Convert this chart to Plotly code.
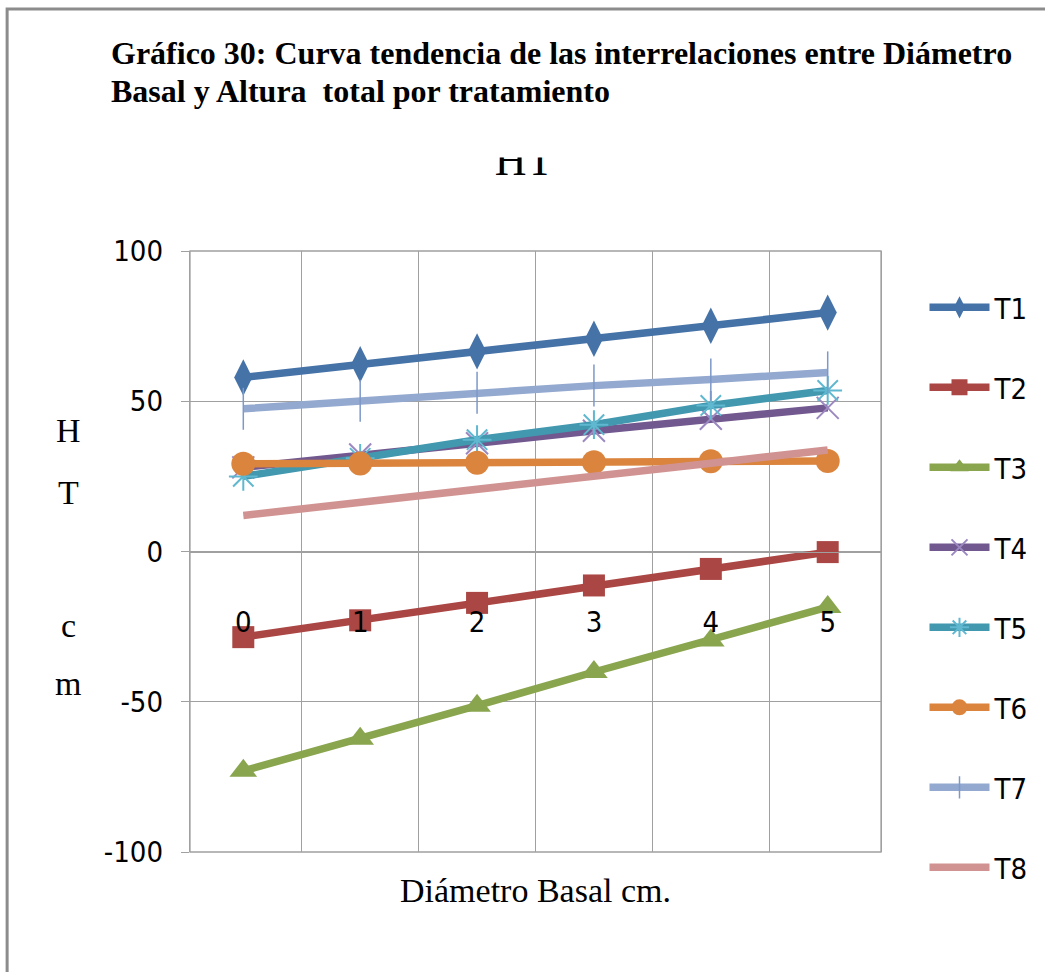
import plotly.graph_objects as go

# ---------------- data ----------------
categories = ["0", "1", "2", "3", "4", "5"]
series_names = ["T1", "T2", "T3", "T4", "T5", "T6", "T7", "T8"]
t1 = [57.9, 62.3, 66.6, 70.8, 75.1, 79.5]
t2 = [-28.5, -22.9, -17.1, -11.3, -5.8, -0.2]
t3 = [-73.0, -62.3, -51.3, -40.1, -29.6, -18.5]
t4 = [28.0, 32.3, 36.0, 40.2, 44.2, 47.8]
t5 = [25.0, 31.0, 37.2, 42.2, 48.6, 53.6]
t6 = [29.2, 29.3, 29.5, 29.7, 30.0, 30.1]
t7 = [47.5, 50.2, 52.8, 55.2, 57.2, 59.6]
t8 = [12.0, 16.5, 21.0, 25.2, 29.4, 33.8]
y_ticks = [-100, -50, 0, 50, 100]
y_tick_labels = ["-100", "-50", "0", "50", "100"]
title_line1 = "Gráfico 30: Curva tendencia de las interrelaciones entre Diámetro"
title_line2 = "Basal y Altura&nbsp; total por tratamiento"
chart_title = "HT"
x_title = "Diámetro Basal cm."
y_title_letters = ["H", "T", "c", "m"]

values = [t1, t2, t3, t4, t5, t6, t7, t8]

# ---------------- styles ----------------
W, H = 1045, 972
L, R, T, B = 190, 156, 140, 120


def fx(px):
    return (px - L) / (W - L - R)


def fy(py):
    return (H - B - py) / (H - T - B)


line_colors = ["#4572A7", "#AA4643", "#89A54E", "#71588F",
               "#4198AF", "#DB843D", "#93A9CF", "#D19392"]
marker_styles = [
    dict(symbol="diamond-tall", size=26, color="#4572A7"),
    dict(symbol="square", size=22, color="#AA4643"),
    dict(symbol="triangle-up", size=24, color="#89A54E"),
    dict(symbol="x-thin-open", size=22, color="#9C88C0", line=dict(width=2, color="#9C88C0")),
    dict(symbol="asterisk-open", size=24, color="#5FB8CF", line=dict(width=2, color="#5FB8CF")),
    dict(symbol="circle", size=24, color="#DB843D"),
    dict(symbol="line-ns-open", size=30, color="#7D98C9", line=dict(width=1.5, color="#7D98C9")),
    None,
]

GRID = "#a0a0a0"
SANS = "DejaVu Sans Condensed, Liberation Sans Narrow, sans-serif"
SERIF = "Liberation Serif, Times New Roman, serif"

fig = go.Figure()

for name, vals, lc, ms in zip(series_names, values, line_colors, marker_styles):
    fig.add_trace(go.Scatter(
        x=categories, y=vals, name=name, legendgroup=name,
        mode="lines+markers" if ms else "lines",
        line=dict(color=lc, width=7.5),
        marker=ms if ms else None,
        hoverinfo="x+y+name",
    ))

# clipped chart title (only bottom part visible, as in the reference)
fig.add_trace(go.Scatter(
    x=[0.5], y=[0.813], mode="text", text=[chart_title],
    textposition="middle center",
    textfont=dict(family=SERIF, size=44, color="black"),
    xaxis="x2", yaxis="y2", showlegend=False, hoverinfo="skip", cliponaxis=True,
))

main_top = fy(251)

fig.update_layout(
    width=W, height=H,
    margin=dict(l=L, r=R, t=T, b=B, pad=0),
    paper_bgcolor="white", plot_bgcolor="white",
    showlegend=True,
    legend=dict(
        x=fx(933), y=fy(282), xanchor="left", yanchor="top",
        font=dict(family=SANS, size=29, color="black"),
        tracegroupgap=39.3, itemwidth=60, bgcolor="rgba(0,0,0,0)",
    ),
    xaxis=dict(
        type="category", categoryorder="array", categoryarray=categories,
        tickson="boundaries", showgrid=True, gridcolor=GRID, gridwidth=1.3,
        anchor="free", position=main_top / 2,
        showline=True, linecolor=GRID, linewidth=1.3,
        ticks="", ticklabelstandoff=45,
        tickfont=dict(family=SANS, size=29, color="black"),
        zeroline=False,
    ),
    yaxis=dict(
        domain=[0, main_top], range=[-100, 100],
        tickvals=y_ticks, ticktext=y_tick_labels,
        showgrid=True, gridcolor=GRID, gridwidth=1.3, zeroline=False,
        showline=True, mirror=True, linecolor=GRID, linewidth=1.3,
        ticks="outside", ticklen=8, tickcolor=GRID, tickwidth=1.3,
        ticklabelstandoff=12,
        tickfont=dict(family=SANS, size=29, color="black"),
    ),
    xaxis2=dict(domain=[fx(528) - 0.1, fx(528) + 0.1], range=[0, 1],
                visible=False, anchor="y2"),
    yaxis2=dict(domain=[fy(190), fy(157.5)], range=[0, 1],
                visible=False, anchor="x2"),
    shapes=[
        dict(type="rect", xref="x domain", yref="y domain", x0=0, x1=1, y0=0, y1=1,
             line=dict(color=GRID, width=1.3), layer="below"),
        dict(type="rect", xref="paper", yref="paper",
             x0=fx(5), x1=fx(1120), y0=fy(1050), y1=fy(9),
             line=dict(color="#8c8c8c", width=3), layer="above"),
    ],
)

annotations = [
    dict(text="<b>" + title_line1 + "</b>", x=fx(108), y=fy(53),
         xanchor="left", yanchor="middle",
         font=dict(family=SERIF, size=32, color="black")),
    dict(text="<b>" + title_line2 + "</b>", x=fx(108), y=fy(91),
         xanchor="left", yanchor="middle",
         font=dict(family=SERIF, size=32, color="black")),
    dict(text=x_title, x=fx(540), y=fy(890), xanchor="center", yanchor="middle",
         font=dict(family=SERIF, size=34, color="black")),
]
for letter, py in zip(y_title_letters, [430, 492, 625, 683]):
    annotations.append(dict(text=letter, x=fx(67), y=fy(py), xanchor="center",
                            yanchor="middle",
                            font=dict(family=SERIF, size=34, color="black")))
for a in annotations:
    a.update(xref="paper", yref="paper", showarrow=False)
fig.update_layout(annotations=annotations)

fig.write_html("out.html", config={"displayModeBar": False},
               post_script="document.body.style.margin='0';")
